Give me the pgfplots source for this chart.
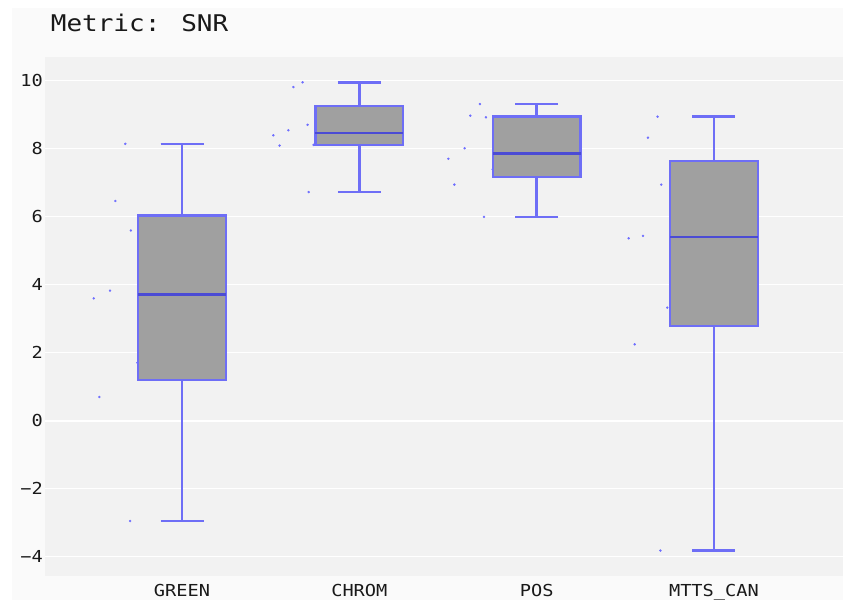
\documentclass[border=0pt]{standalone}
\usepackage{fontspec}
\setmainfont{DejaVu Sans Mono}[FakeStretch=1.13]
\usepackage{pgfplots}
\pgfplotsset{compat=1.18}
\usepgfplotslibrary{statistics}

\definecolor{pagebg}{RGB}{250,250,250}
\definecolor{plotbg}{RGB}{242,242,242}
\definecolor{boxfill}{RGB}{160,160,160}
\definecolor{boxline}{RGB}{110,110,246}
\definecolor{medline}{RGB}{75,75,212}
\definecolor{ptcol}{RGB}{110,110,255}

\pgfplotsset{
  snrbox/.style={solid, fill=boxfill, draw=boxline, line width=2.5bp,
    boxplot/draw direction=y,
    boxplot/box extend=0.495, boxplot/whisker extend=0.242,
    boxplot/every median/.style={draw=medline, line width=2.2bp}},
  snrpts/.style={only marks, mark=*, mark size=1bp, color=ptcol},
}

\begin{document}
\begin{tikzpicture}
  \useasboundingbox (-45bp,-24bp) rectangle (798bp,576bp);
  \fill[white] (-45bp,-24bp) rectangle (798bp,576bp);
  \fill[pagebg] (-33bp,-24bp) rectangle (798bp,568bp);
  \node[anchor=base west, inner sep=0pt, text=black!90, font=\fontsize{23bp}{26bp}\selectfont] at (5.7bp,544bp) {Metric: SNR};

  \begin{axis}[
      at={(0,0)}, anchor=south west,
      scale only axis, width=798bp, height=519bp,
      xmin=-0.773, xmax=3.728, ymin=-4.568, ymax=10.706,
      axis background/.style={fill=plotbg},
      axis line style={draw=none},
      major tick length=0pt,
      xtick={0,1,2,3},
      xticklabels={GREEN,CHROM,POS,MTTS\_CAN},
      ytick={-4,-2,0,2,4,6,8,10},
      yticklabels={−4,−2,0,2,4,6,8,10},
      ymajorgrids,
      grid style={white, line width=1bp},
      extra y ticks={0}, extra y tick labels={},
      extra y tick style={grid style={white, line width=2bp}},
      tick label style={font=\fontsize{16.5bp}{18bp}\selectfont, text=black!90},
      xticklabel style={anchor=base, yshift=-20bp, inner sep=0pt},
      yticklabel style={anchor=east, xshift=-2bp, inner sep=0pt},
      /pgf/number format/assume math mode=true,
      clip=false,
    ]
    % GREEN
    \addplot[snrbox, boxplot prepared={draw position=0, lower whisker=-2.95,
      lower quartile=1.205, median=3.715, upper quartile=6.035, upper whisker=8.15}]
      coordinates {};
    \addplot[snrpts] coordinates {
      (-0.320,8.15) (-0.376,6.47) (-0.289,5.60) (-0.406,3.83)
      (-0.498,3.60) (-0.252,1.71) (-0.466,0.70) (-0.293,-2.95)};
    % CHROM
    \addplot[snrbox, boxplot prepared={draw position=1, lower whisker=6.73,
      lower quartile=8.11, median=8.475, upper quartile=9.265, upper whisker=9.96}]
      coordinates {};
    \addplot[snrpts] coordinates {
      (0.680,9.96) (0.628,9.82) (0.708,8.71) (0.600,8.55)
      (0.515,8.40) (0.550,8.10) (0.742,8.12) (0.714,6.73)};
    % POS
    \addplot[snrbox, boxplot prepared={draw position=2, lower whisker=6.00,
      lower quartile=7.175, median=7.865, upper quartile=8.955, upper whisker=9.32}]
      coordinates {};
    \addplot[snrpts] coordinates {
      (1.680,9.32) (1.626,8.98) (1.714,8.93) (1.594,8.02)
      (1.502,7.71) (1.752,7.40) (1.536,6.95) (1.703,6.00)};
    % MTTS_CAN
    \addplot[snrbox, boxplot prepared={draw position=3, lower whisker=-3.82,
      lower quartile=2.79, median=5.405, upper quartile=7.64, upper whisker=8.95}]
      coordinates {};
    \addplot[snrpts] coordinates {
      (2.682,8.95) (2.628,8.33) (2.703,6.95) (2.600,5.44)
      (2.519,5.37) (2.737,3.33) (2.553,2.25) (2.698,-3.82)};
  \end{axis}
\end{tikzpicture}
\end{document}
